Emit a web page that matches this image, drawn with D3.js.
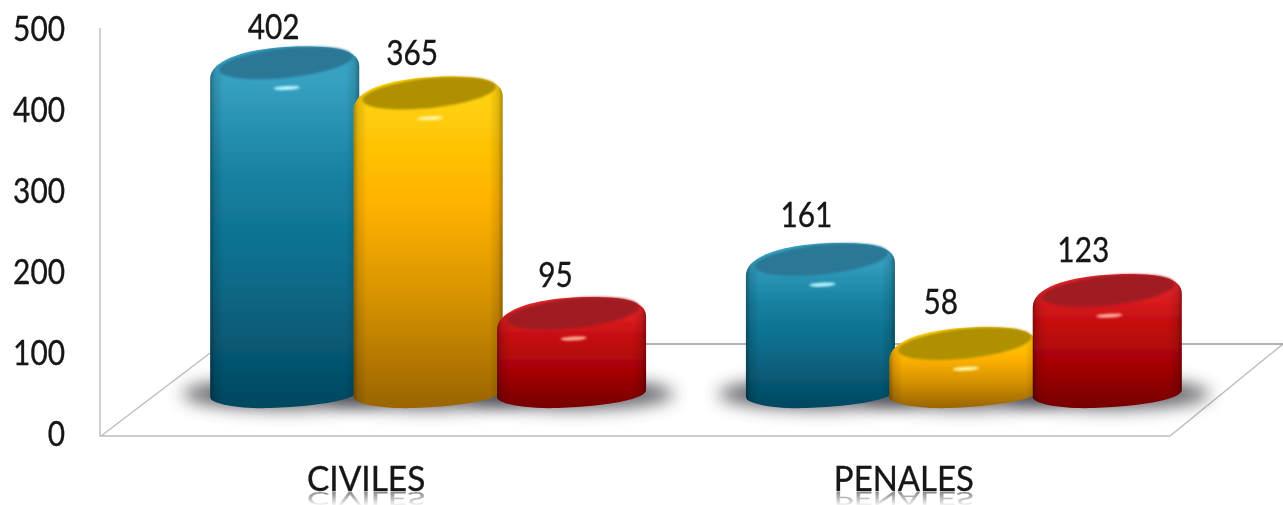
<!DOCTYPE html>
<html><head><meta charset="utf-8">
<script src="https://cdn.jsdelivr.net/npm/d3@7"></script>
<style>html,body{margin:0;background:#fff}svg{display:block}text{font-family:Lato,"Open Sans",sans-serif;fill:#141414;stroke:#141414;stroke-width:.35px}</style>
</head><body><div id="c"></div>
<script>
const categories = ["CIVILES","PENALES"];
const seriesNames = ["a","b","c"];
const seriesA = [402,161];
const seriesB = [365,58];
const seriesC = [95,123];
const yTicks = [0,100,200,300,400,500];

const W=1283,H=505;
const svg=d3.select("#c").append("svg").attr("width",W).attr("height",H);
const defs=svg.append("defs");

const palette={
 a:{stops:["#38a2c3","#157f9f","#0b6a88","#03475f"],face:"#2a7896",hi:"#b8f4ff"},
 b:{stops:["#ffd00a","#ffb200","#d99500","#9a6400"],face:"#af9000",hi:"#fff4a0"},
 c:{stops:["#e6252b","#c40c0e","#a80406","#760000"],face:"#a11c20",hi:"#ffa898"}
};
seriesNames.forEach(s=>{
 const g=defs.append("linearGradient").attr("id","g"+s).attr("x1",0).attr("x2",0).attr("y1",0).attr("y2",1);
 palette[s].stops.forEach((c,i)=>g.append("stop").attr("offset",[0.08,0.38,0.65,1][i]).attr("stop-color",c));
});
const edge=defs.append("linearGradient").attr("id","edge");
[[0,.34],[.03,.12],[.09,0],[.91,0],[.97,.12],[1,.34]].forEach(([o,a])=>edge.append("stop").attr("offset",o).attr("stop-color","#000").attr("stop-opacity",a));
defs.append("filter").attr("id","b8").attr("x","-30%").attr("y","-100%").attr("width","160%").attr("height","300%").append("feGaussianBlur").attr("stdDeviation",8.5);
defs.append("filter").attr("id","b1").attr("x","-30%").attr("y","-150%").attr("width","160%").attr("height","400%").append("feGaussianBlur").attr("stdDeviation",1);
defs.append("filter").attr("id","bb").attr("x","-5%").attr("y","-5%").attr("width","110%").attr("height","110%").append("feGaussianBlur").attr("stdDeviation",.6);
defs.append("filter").attr("id","bt").attr("x","-5%").attr("y","-5%").attr("width","110%").attr("height","110%").append("feGaussianBlur").attr("stdDeviation",0.35);
const fade=defs.append("linearGradient").attr("id","fade").attr("x1",0).attr("x2",0).attr("y1",0).attr("y2",1);
fade.append("stop").attr("offset",0).attr("stop-color","#fff").attr("stop-opacity",.55);
fade.append("stop").attr("offset",1).attr("stop-color","#fff").attr("stop-opacity",.05);
defs.append("mask").attr("id","rm").attr("maskUnits","userSpaceOnUse").attr("x",0).attr("y",491).attr("width",W).attr("height",14)
  .append("rect").attr("x",0).attr("y",491).attr("width",W).attr("height",14).attr("fill","url(#fade)");

const x0=d3.scaleBand().domain(categories).range([213,1179]).paddingInner(105.5/536).paddingOuter(0);
const x1=d3.scaleBand().domain(seriesNames).range([0,x0.bandwidth()]);
const yBar=d3.scaleLinear().domain([0,500]).range([391,-17]);
const yAxis=d3.scaleLinear().domain([0,500]).range([433,28]);

const frame=svg.append("g").attr("fill","none").attr("stroke","#bdbdbd").attr("stroke-width",1.4);
frame.append("path").attr("d","M100,28V436H1170L1283,344");
frame.append("path").attr("d","M101,436L222,344");
frame.append("path").attr("d","M222,344H1283").attr("stroke","#999");

const fit=n=>String(n).length*17.3;
const ax=svg.append("g").attr("transform","translate(65,0)").call(d3.axisLeft(yAxis).tickValues(yTicks).tickSize(0).tickPadding(0));
ax.select(".domain").remove();
ax.selectAll("text").attr("font-size",35).style("font-family",'Lato,"Open Sans",sans-serif').attr("fill","#141414")
  .attr("dy","0.35em").attr("filter","url(#bt)").attr("textLength",d=>fit(d)).attr("lengthAdjust","spacingAndGlyphs");

const rows=categories.flatMap((c,i)=>[["a",seriesA[i]],["b",seriesB[i]],["c",seriesC[i]]].map(([s,v])=>({c,i,s,v})));
const cx=d=>x0(d.c)+x1(d.s)+x1.bandwidth()/2;
const RX=74.5,TILT=-6;

svg.append("g").selectAll("ellipse").data(rows).join("ellipse")
 .attr("cx",cx).attr("cy",yBar(0)+3).attr("rx",102).attr("ry",15)
 .attr("fill","#45454e").attr("opacity",.85).attr("filter","url(#b8)");

const bars=svg.append("g").selectAll("g").data(rows).join("g");
const bodyPath=d=>{
 const X=cx(d),t=yBar(d.v),b=yBar(0),L=X-RX,R=X+RX;
 return `M${L},${b+6}L${L},${t+16}C${L},${t-2} ${X-42},${t-15} ${X+12},${t-16.5}`+
  `C${X+48},${t-17} ${R},${t-14} ${R},${t+3}L${R},${b-1}`+
  `C${R},${b+7} ${X+42},${b+15} ${X-14},${b+17}C${X-46},${b+18} ${L},${b+13} ${L},${b+6}Z`;
};
bars.append("path").attr("d",bodyPath).attr("fill",d=>`url(#g${d.s})`).attr("filter","url(#bb)");
bars.append("path").attr("d",bodyPath).attr("fill","url(#edge)").attr("filter","url(#bb)");
bars.append("ellipse").attr("rx",67).attr("ry",15)
 .attr("transform",d=>`translate(${cx(d)+1},${yBar(d.v)}) rotate(${TILT})`)
 .attr("fill",d=>palette[d.s].face).attr("filter","url(#b1)");
bars.append("ellipse").attr("rx",13).attr("ry",2)
 .attr("transform",d=>`translate(${cx(d)+2},${yBar(d.v)+25}) rotate(-3)`)
 .attr("fill",d=>palette[d.s].hi).attr("filter","url(#b1)");

// value-label placement relative to each cylinder's top
const labelShift=[-11,-16,-16,-14,-23,-24];
const labelGap=[36,40,39,45,42,41];
svg.append("g").selectAll("text").data(rows).join("text")
 .attr("x",(d,i)=>cx(d)+labelShift[i]).attr("y",(d,i)=>yBar(d.v)-labelGap[i])
 .attr("dy","0.35em").attr("text-anchor","middle").attr("font-size",35).attr("filter","url(#bt)")
 .attr("textLength",d=>fit(d.v)).attr("lengthAdjust","spacingAndGlyphs")
 .text(d=>d.v);

const lx=d=>x0(d)+x0.bandwidth()/2-(d==="CIVILES"?62:60);
const capLen=d=>d.length*(d==="CIVILES"?16.9:20);
svg.append("g").selectAll("text").data(categories).join("text")
 .attr("id",d=>"cat-"+d).attr("x",lx).attr("y",491).attr("text-anchor","middle").attr("font-size",35).attr("filter","url(#bt)")
 .attr("textLength",capLen).attr("lengthAdjust","spacingAndGlyphs")
 .text(d=>d);
// mirrored reflection of each category label
svg.append("g").attr("mask","url(#rm)").selectAll("use").data(categories).join("use")
 .attr("href",d=>"#cat-"+d).attr("transform","translate(0,737.5) scale(1,-0.5)");
</script></body></html>
